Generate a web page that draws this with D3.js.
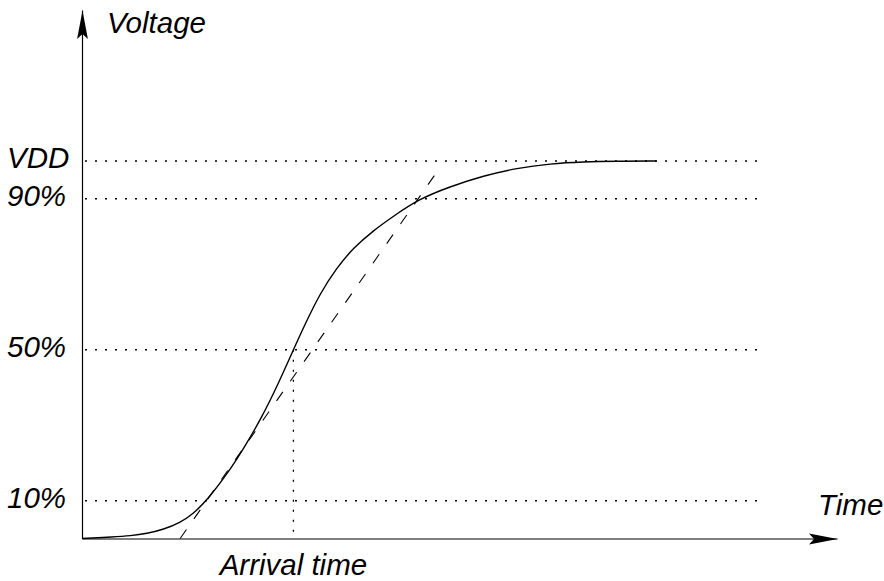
<!DOCTYPE html>
<html>
<head>
<meta charset="utf-8">
<script src="https://cdn.jsdelivr.net/npm/d3@7"></script>
<style>
  html, body { margin: 0; padding: 0; background: #fff; }
  svg { display: block; }
  text { font-family: "Liberation Sans", Arial, Helvetica, sans-serif; font-style: italic; fill: #000; }
</style>
</head>
<body>
<svg id="chart" width="884" height="581"></svg>
<script>
// ---- data (time in arbitrary units, voltage in % of VDD) ----
const curveTime  = [0, 4.2, 6.4, 8.6, 10.8, 13.0, 14.7, 16.5, 19.2, 21.4, 23.8, 26.0, 28.0, 29.6, 31.5, 33.7, 35.9, 38.6, 41.2, 44.5, 48.7, 53.2, 57.6, 62.0, 66.4, 70.8, 76.1];
const curveVolt  = [0, 0.4, 0.7, 1.3, 2.4, 4.2, 6.5, 10, 17.0, 23.8, 32.0, 41.0, 50, 57.0, 64.8, 71.6, 76.9, 81.6, 85.3, 89.8, 93.2, 96.1, 98.1, 99.3, 99.8, 99.95, 100];
const levelLabels = ["VDD", "90%", "50%", "10%"];
const levelValues = [100, 90, 50, 10];
const levelEnd = 90;              // time where the dotted level lines stop
const slopeTime = [13.0, 47.5];   // dashed 10%-90% line
const slopeVolt = [0, 98.5];
const arrivalTime = 28.0;         // 50% crossing
const arrivalLabel = "Arrival time";
const xTitle = "Time";
const yTitle = "Voltage";

// ---- scales ----
const svg = d3.select("#chart");
const x = d3.scaleLinear().domain([0, 100]).range([82, 837]);
const y = d3.scaleLinear().domain([0, 140]).range([538.5, 10]);
const FS = 29.5;

// arrowhead marker
const defs = svg.append("defs");
defs.append("marker")
  .attr("id", "arrow")
  .attr("markerUnits", "userSpaceOnUse")
  .attr("viewBox", "-30 -7 31 14")
  .attr("markerWidth", 31).attr("markerHeight", 14)
  .attr("refX", 0).attr("refY", 0)
  .attr("orient", "auto")
  .append("path")
  .attr("d", "M0,0L-28.5,-5.4L-23.5,0L-28.5,5.4Z")
  .attr("fill", "#000");

// ---- level dotted lines ----
const levels = levelValues.map((v, i) => ({ v, label: levelLabels[i] }));
svg.append("g").selectAll("line").data(levels).join("line")
  .attr("x1", x(0)).attr("x2", x(levelEnd))
  .attr("y1", d => y(d.v)).attr("y2", d => y(d.v))
  .attr("stroke", "#000").attr("stroke-width", 1.3)
  .attr("stroke-dasharray", "2,8").attr("stroke-dashoffset", -3);

svg.append("g").selectAll("text").data(levels).join("text")
  .attr("x", 7).attr("y", d => y(d.v) + 7)
  .attr("font-size", FS)
  .text(d => d.label);

// vertical dotted line at arrival time
svg.append("line")
  .attr("x1", x(arrivalTime)).attr("x2", x(arrivalTime))
  .attr("y1", y(50)).attr("y2", y(0))
  .attr("stroke", "#000").attr("stroke-width", 1.3)
  .attr("stroke-dasharray", "2,8").attr("stroke-dashoffset", -10);

// ---- dashed slope line ----
const lineGen = d3.line().x(d => x(d[0])).y(d => y(d[1]));
svg.append("path")
  .datum(slopeTime.map((t, i) => [t, slopeVolt[i]]))
  .attr("d", lineGen)
  .attr("fill", "none").attr("stroke", "#000").attr("stroke-width", 1.1)
  .attr("stroke-dasharray", "11,13");

// ---- curve ----
const curveGen = d3.line().x(d => x(d[0])).y(d => y(d[1])).curve(d3.curveBasis);
svg.append("path")
  .datum(curveTime.map((t, i) => [t, curveVolt[i]]))
  .attr("d", curveGen)
  .attr("fill", "none").attr("stroke", "#000").attr("stroke-width", 1.4);

// ---- axes ----
const gx = svg.append("g").attr("transform", `translate(0,${y(0)})`)
  .call(d3.axisBottom(x).tickValues([]).tickSizeOuter(0));
gx.select(".domain").attr("stroke", "#000").attr("stroke-width", 1.2).attr("marker-end", "url(#arrow)");

const gy = svg.append("g").attr("transform", `translate(${x(0)},0)`)
  .call(d3.axisLeft(y).tickValues([]).tickSizeOuter(0));
gy.select(".domain").attr("stroke", "#000").attr("stroke-width", 1.2).attr("marker-end", "url(#arrow)");

// ---- titles ----
svg.append("text").attr("x", 107).attr("y", 33).attr("font-size", FS).text(yTitle);
svg.append("text").attr("x", 818).attr("y", 515).attr("font-size", FS).text(xTitle);
svg.append("text").attr("x", x(arrivalTime)).attr("y", 574.5).attr("text-anchor", "middle")
  .attr("font-size", FS).text(arrivalLabel);
</script>
</body>
</html>
